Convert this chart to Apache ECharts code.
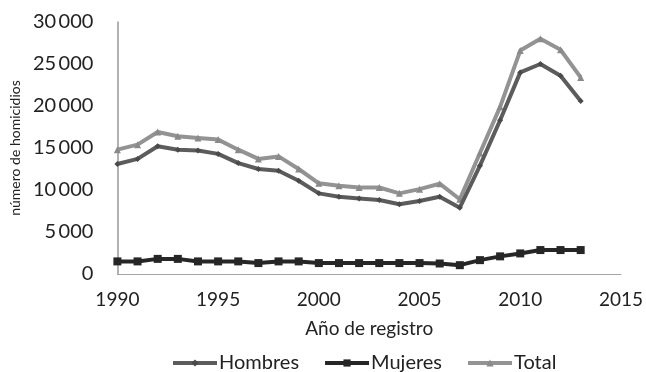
<!DOCTYPE html>
<html>
<head>
<meta charset="utf-8">
<script src="https://cdn.jsdelivr.net/npm/echarts@6/dist/echarts.min.js"></script>
<style>
html,body{margin:0;padding:0;background:#fff;}
#c{width:646px;height:372px;}
</style>
</head>
<body>
<div id="c"></div>
<script>
const years = [1990,1991,1992,1993,1994,1995,1996,1997,1998,1999,2000,2001,2002,2003,2004,2005,2006,2007,2008,2009,2010,2011,2012,2013];
const hombres = [13100,13700,15200,14800,14700,14300,13200,12500,12300,11100,9600,9200,9000,8800,8300,8700,9200,7900,12900,18300,24000,25000,23600,20600];
const mujeres = [1500,1500,1800,1800,1500,1500,1500,1300,1500,1500,1300,1300,1300,1300,1300,1300,1250,1050,1650,2100,2450,2850,2850,2850];
const total = [14800,15400,16900,16400,16200,16000,14800,13700,14000,12500,10800,10500,10300,10300,9600,10100,10750,8900,14400,19900,26600,28000,26700,23400];
const seriesNames = ['Hombres','Mujeres','Total'];
const xAxisName = 'Año de registro';
const yAxisName = 'número de homicidios';

const FONT = 'Lato';
const chart = echarts.init(document.getElementById('c'), null, {renderer:'canvas'});
const pairs = arr => years.map((y,i)=>[y,arr[i]]);
chart.setOption({
  animation:false,
  backgroundColor:'#fff',
  textStyle:{fontFamily:FONT},
  grid:{left:117,right:22,top:22,bottom:98,containLabel:false},
  legend:{
    data:seriesNames,
    top:348,
    left:166,
    itemWidth:44,
    itemHeight:9,
    itemGap:24,
    lineStyle:{width:4},
    textStyle:{fontFamily:FONT,fontSize:20,color:'#222',padding:[0,0,0,-3]}
  },
  xAxis:{
    type:'value',min:1990,max:2015,interval:5,
    name:xAxisName,nameLocation:'middle',nameGap:45,
    nameTextStyle:{fontFamily:FONT,fontSize:19,color:'#222'},
    axisLine:{show:true,lineStyle:{color:'#a6a6a6',width:1}},
    axisTick:{show:false},
    splitLine:{show:false},
    axisLabel:{fontFamily:FONT,fontSize:19,color:'#222',margin:16,formatter:v=>String(v)}
  },
  yAxis:{
    type:'value',min:0,max:30000,interval:5000,
    name:yAxisName,nameLocation:'middle',nameGap:88,nameRotate:90,
    nameTextStyle:{fontFamily:FONT,fontSize:14,color:'#222'},
    axisLine:{show:true,lineStyle:{color:'#999',width:1.5}},
    axisTick:{show:false},
    splitLine:{show:false},
    axisLabel:{fontFamily:FONT,fontSize:20,color:'#222',margin:24,
      formatter:v=> v===0 ? '0' : (v/1000)+'\u2009000'}
  },
  series:[
    {name:'Hombres',type:'line',data:pairs(hombres),color:'#5c5c5c',
      lineStyle:{width:4,color:'#5c5c5c'},symbol:'diamond',symbolSize:6,
      itemStyle:{color:'#4a4a4a'},z:3},
    {name:'Mujeres',type:'line',data:pairs(mujeres),color:'#262626',
      lineStyle:{width:4,color:'#262626'},symbol:'rect',symbolSize:8,
      itemStyle:{color:'#262626'},z:4},
    {name:'Total',type:'line',data:pairs(total),color:'#939393',
      lineStyle:{width:4,color:'#939393'},symbol:'triangle',symbolSize:7,
      itemStyle:{color:'#8a8a8a'},z:2}
  ]
});
</script>
</body>
</html>
